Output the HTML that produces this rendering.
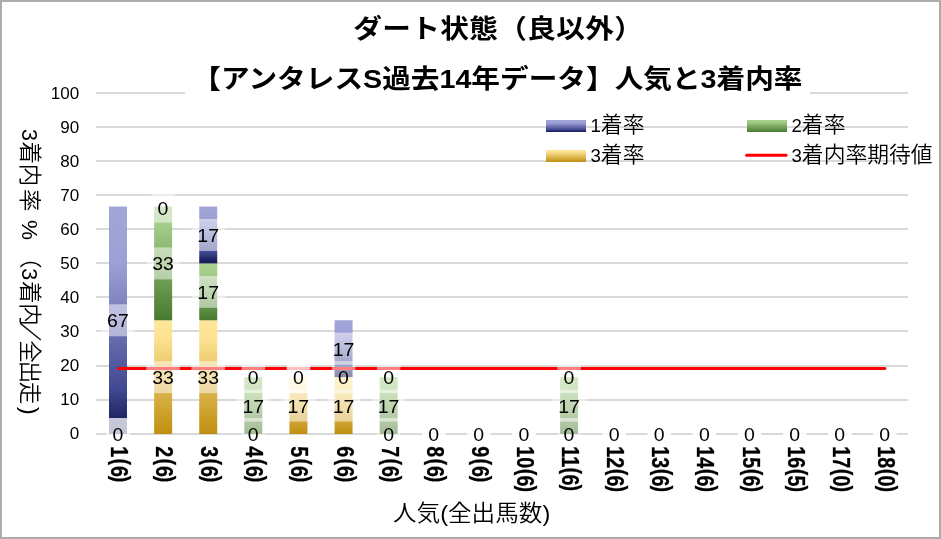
<!DOCTYPE html>
<html lang="ja"><head><meta charset="utf-8"><title>ダート状態（良以外）アンタレスS 人気と3着内率</title>
<style>
html,body{margin:0;padding:0;background:#fff;}
body{width:941px;height:539px;overflow:hidden;}
svg{display:block;font-family:"Liberation Sans","Noto Sans CJK JP",sans-serif;}
.t{font-weight:700;font-size:28.67px;fill:#000;}
.tk{font-size:17px;fill:#000;}
.dl{font-size:18.2px;fill:#000;text-anchor:middle;}
.cat{font-weight:700;font-size:24px;fill:#000;stroke:#000;stroke-width:0.3px;}
.lg{font-size:21.8px;fill:#000;font-weight:350;}
.lgd{font-size:18.6px;}
.axd{font-size:21.5px;}
.ax{font-size:24px;fill:#000;font-weight:350;}
</style></head><body>
<svg width="941" height="539" viewBox="0 0 941 539">
<defs>
<linearGradient id="g1" x1="0" y1="0" x2="0" y2="1"><stop offset="0" stop-color="#a1a6d9"/><stop offset="0.25" stop-color="#9ca0d4"/><stop offset="0.58" stop-color="#666bae"/><stop offset="0.8" stop-color="#414992"/><stop offset="0.93" stop-color="#1f2664"/><stop offset="1" stop-color="#151b52"/></linearGradient>
<linearGradient id="g2" x1="0" y1="0" x2="0" y2="1"><stop offset="0" stop-color="#a9d18e"/><stop offset="0.15" stop-color="#a5ce8a"/><stop offset="1" stop-color="#487a2e"/></linearGradient>
<linearGradient id="g3" x1="0" y1="0" x2="0" y2="1"><stop offset="0" stop-color="#ffe699"/><stop offset="0.15" stop-color="#fde293"/><stop offset="1" stop-color="#bf8f10"/></linearGradient>
</defs>
<rect x="0" y="0" width="941" height="539" fill="#fff"/>
<rect x="1" y="1" width="939" height="537" fill="none" stroke="#afabab" stroke-width="2"/>
<g stroke="#d9d9d9" stroke-width="2" fill="none">
<line x1="96" y1="434" x2="908" y2="434"/>
<line x1="96" y1="400" x2="908" y2="400"/>
<line x1="96" y1="366" x2="908" y2="366"/>
<line x1="96" y1="331" x2="908" y2="331"/>
<line x1="96" y1="297" x2="908" y2="297"/>
<line x1="96" y1="263" x2="908" y2="263"/>
<line x1="96" y1="229" x2="908" y2="229"/>
<line x1="96" y1="195" x2="908" y2="195"/>
<line x1="96" y1="161" x2="908" y2="161"/>
<line x1="96" y1="127" x2="908" y2="127"/>
<line x1="96" y1="93" x2="908" y2="93"/>
</g>
<g class="tk" text-anchor="end">
<text x="79.2" y="438.70">0</text>
<text x="79.2" y="404.70">10</text>
<text x="79.2" y="370.71">20</text>
<text x="79.2" y="336.71">30</text>
<text x="79.2" y="302.71">40</text>
<text x="79.2" y="268.71">50</text>
<text x="79.2" y="234.72">60</text>
<text x="79.2" y="200.72">70</text>
<text x="79.2" y="166.72">80</text>
<text x="79.2" y="132.73">90</text>
<text x="79.2" y="98.73">100</text>
</g>
<g>
<rect x="109.00" y="206.54" width="18" height="227.46" fill="url(#g1)"/>
<rect x="154.12" y="320.29" width="18" height="113.71" fill="url(#g3)"/>
<rect x="154.12" y="206.58" width="18" height="113.71" fill="url(#g2)"/>
<rect x="199.23" y="320.29" width="18" height="113.71" fill="url(#g3)"/>
<rect x="199.23" y="263.41" width="18" height="56.87" fill="url(#g2)"/>
<rect x="199.23" y="206.54" width="18" height="56.87" fill="url(#g1)"/>
<rect x="244.33" y="377.13" width="18" height="56.87" fill="url(#g2)"/>
<rect x="289.44" y="377.13" width="18" height="56.87" fill="url(#g3)"/>
<rect x="334.56" y="377.13" width="18" height="56.87" fill="url(#g3)"/>
<rect x="334.56" y="320.25" width="18" height="56.87" fill="url(#g1)"/>
<rect x="379.66" y="377.13" width="18" height="56.87" fill="url(#g2)"/>
<rect x="560.11" y="377.13" width="18" height="56.87" fill="url(#g2)"/>
</g>
<line x1="118.60" y1="368.5" x2="884.88" y2="368.5" stroke="#ff0000" stroke-width="3" stroke-linecap="round"/>
<g>
<rect x="106.25" y="418.00" width="23.5" height="32" fill="#fff" fill-opacity="0.5"/>
<rect x="106.25" y="418.00" width="23.5" height="32" fill="#fff" fill-opacity="0.5"/>
<rect x="101.25" y="304.27" width="33.5" height="32" fill="#fff" fill-opacity="0.5"/>
<rect x="146.37" y="361.14" width="33.5" height="32" fill="#fff" fill-opacity="0.5"/>
<rect x="146.37" y="247.43" width="33.5" height="32" fill="#fff" fill-opacity="0.5"/>
<rect x="151.37" y="190.58" width="23.5" height="32" fill="#fff" fill-opacity="0.5"/>
<rect x="191.48" y="361.14" width="33.5" height="32" fill="#fff" fill-opacity="0.5"/>
<rect x="191.48" y="275.85" width="33.5" height="32" fill="#fff" fill-opacity="0.5"/>
<rect x="191.48" y="218.98" width="33.5" height="32" fill="#fff" fill-opacity="0.5"/>
<rect x="241.58" y="418.00" width="23.5" height="32" fill="#fff" fill-opacity="0.5"/>
<rect x="236.58" y="389.56" width="33.5" height="32" fill="#fff" fill-opacity="0.5"/>
<rect x="241.58" y="361.13" width="23.5" height="32" fill="#fff" fill-opacity="0.5"/>
<rect x="281.69" y="389.56" width="33.5" height="32" fill="#fff" fill-opacity="0.5"/>
<rect x="286.69" y="361.13" width="23.5" height="32" fill="#fff" fill-opacity="0.5"/>
<rect x="286.69" y="361.13" width="23.5" height="32" fill="#fff" fill-opacity="0.5"/>
<rect x="326.81" y="389.56" width="33.5" height="32" fill="#fff" fill-opacity="0.5"/>
<rect x="331.81" y="361.13" width="23.5" height="32" fill="#fff" fill-opacity="0.5"/>
<rect x="326.81" y="332.69" width="33.5" height="32" fill="#fff" fill-opacity="0.5"/>
<rect x="376.91" y="418.00" width="23.5" height="32" fill="#fff" fill-opacity="0.5"/>
<rect x="371.91" y="389.56" width="33.5" height="32" fill="#fff" fill-opacity="0.5"/>
<rect x="376.91" y="361.13" width="23.5" height="32" fill="#fff" fill-opacity="0.5"/>
<rect x="422.02" y="418.00" width="23.5" height="32" fill="#fff" fill-opacity="0.5"/>
<rect x="422.02" y="418.00" width="23.5" height="32" fill="#fff" fill-opacity="0.5"/>
<rect x="422.02" y="418.00" width="23.5" height="32" fill="#fff" fill-opacity="0.5"/>
<rect x="467.13" y="418.00" width="23.5" height="32" fill="#fff" fill-opacity="0.5"/>
<rect x="467.13" y="418.00" width="23.5" height="32" fill="#fff" fill-opacity="0.5"/>
<rect x="467.13" y="418.00" width="23.5" height="32" fill="#fff" fill-opacity="0.5"/>
<rect x="512.25" y="418.00" width="23.5" height="32" fill="#fff" fill-opacity="0.5"/>
<rect x="512.25" y="418.00" width="23.5" height="32" fill="#fff" fill-opacity="0.5"/>
<rect x="512.25" y="418.00" width="23.5" height="32" fill="#fff" fill-opacity="0.5"/>
<rect x="557.36" y="418.00" width="23.5" height="32" fill="#fff" fill-opacity="0.5"/>
<rect x="552.36" y="389.56" width="33.5" height="32" fill="#fff" fill-opacity="0.5"/>
<rect x="557.36" y="361.13" width="23.5" height="32" fill="#fff" fill-opacity="0.5"/>
<rect x="602.47" y="418.00" width="23.5" height="32" fill="#fff" fill-opacity="0.5"/>
<rect x="602.47" y="418.00" width="23.5" height="32" fill="#fff" fill-opacity="0.5"/>
<rect x="602.47" y="418.00" width="23.5" height="32" fill="#fff" fill-opacity="0.5"/>
<rect x="647.58" y="418.00" width="23.5" height="32" fill="#fff" fill-opacity="0.5"/>
<rect x="647.58" y="418.00" width="23.5" height="32" fill="#fff" fill-opacity="0.5"/>
<rect x="647.58" y="418.00" width="23.5" height="32" fill="#fff" fill-opacity="0.5"/>
<rect x="692.69" y="418.00" width="23.5" height="32" fill="#fff" fill-opacity="0.5"/>
<rect x="692.69" y="418.00" width="23.5" height="32" fill="#fff" fill-opacity="0.5"/>
<rect x="692.69" y="418.00" width="23.5" height="32" fill="#fff" fill-opacity="0.5"/>
<rect x="737.80" y="418.00" width="23.5" height="32" fill="#fff" fill-opacity="0.5"/>
<rect x="737.80" y="418.00" width="23.5" height="32" fill="#fff" fill-opacity="0.5"/>
<rect x="737.80" y="418.00" width="23.5" height="32" fill="#fff" fill-opacity="0.5"/>
<rect x="782.91" y="418.00" width="23.5" height="32" fill="#fff" fill-opacity="0.5"/>
<rect x="782.91" y="418.00" width="23.5" height="32" fill="#fff" fill-opacity="0.5"/>
<rect x="782.91" y="418.00" width="23.5" height="32" fill="#fff" fill-opacity="0.5"/>
<rect x="828.01" y="418.00" width="23.5" height="32" fill="#fff" fill-opacity="0.5"/>
<rect x="828.01" y="418.00" width="23.5" height="32" fill="#fff" fill-opacity="0.5"/>
<rect x="828.01" y="418.00" width="23.5" height="32" fill="#fff" fill-opacity="0.5"/>
<rect x="873.12" y="418.00" width="23.5" height="32" fill="#fff" fill-opacity="0.5"/>
<rect x="873.12" y="418.00" width="23.5" height="32" fill="#fff" fill-opacity="0.5"/>
<rect x="873.12" y="418.00" width="23.5" height="32" fill="#fff" fill-opacity="0.5"/>
<text class="dl" transform="translate(117.91,440.90) scale(1.07,1)">0</text>
<text class="dl" transform="translate(117.91,327.17) scale(1.07,1)">67</text>
<text class="dl" transform="translate(163.02,384.04) scale(1.07,1)">33</text>
<text class="dl" transform="translate(163.02,270.33) scale(1.07,1)">33</text>
<text class="dl" transform="translate(163.02,214.58) scale(1.07,1)">0</text>
<text class="dl" transform="translate(208.13,384.04) scale(1.07,1)">33</text>
<text class="dl" transform="translate(208.13,298.75) scale(1.07,1)">17</text>
<text class="dl" transform="translate(208.13,241.88) scale(1.07,1)">17</text>
<text class="dl" transform="translate(253.23,440.90) scale(1.07,1)">0</text>
<text class="dl" transform="translate(253.23,413.46) scale(1.07,1)">17</text>
<text class="dl" transform="translate(253.23,384.03) scale(1.07,1)">0</text>
<text class="dl" transform="translate(298.34,413.46) scale(1.07,1)">17</text>
<text class="dl" transform="translate(298.34,384.03) scale(1.07,1)">0</text>
<text class="dl" transform="translate(343.45,413.46) scale(1.07,1)">17</text>
<text class="dl" transform="translate(343.45,384.03) scale(1.07,1)">0</text>
<text class="dl" transform="translate(343.45,355.59) scale(1.07,1)">17</text>
<text class="dl" transform="translate(388.56,440.90) scale(1.07,1)">0</text>
<text class="dl" transform="translate(388.56,413.46) scale(1.07,1)">17</text>
<text class="dl" transform="translate(388.56,384.03) scale(1.07,1)">0</text>
<text class="dl" transform="translate(433.67,440.90) scale(1.07,1)">0</text>
<text class="dl" transform="translate(478.78,440.90) scale(1.07,1)">0</text>
<text class="dl" transform="translate(523.89,440.90) scale(1.07,1)">0</text>
<text class="dl" transform="translate(569.00,440.90) scale(1.07,1)">0</text>
<text class="dl" transform="translate(569.00,413.46) scale(1.07,1)">17</text>
<text class="dl" transform="translate(569.00,384.03) scale(1.07,1)">0</text>
<text class="dl" transform="translate(614.12,440.90) scale(1.07,1)">0</text>
<text class="dl" transform="translate(659.23,440.90) scale(1.07,1)">0</text>
<text class="dl" transform="translate(704.34,440.90) scale(1.07,1)">0</text>
<text class="dl" transform="translate(749.45,440.90) scale(1.07,1)">0</text>
<text class="dl" transform="translate(794.56,440.90) scale(1.07,1)">0</text>
<text class="dl" transform="translate(839.66,440.90) scale(1.07,1)">0</text>
<text class="dl" transform="translate(884.77,440.90) scale(1.07,1)">0</text>
</g>
<g class="cat">
<text transform="translate(111.00,446.3) rotate(90) scale(0.82,1)">1<tspan dx="1.6" dy="-2.3">(</tspan><tspan dx="1.0" dy="2.3">6</tspan><tspan dx="-1.3" dy="-2.3">)</tspan></text>
<text transform="translate(156.12,446.3) rotate(90) scale(0.82,1)">2<tspan dx="1.6" dy="-2.3">(</tspan><tspan dx="1.0" dy="2.3">6</tspan><tspan dx="-1.3" dy="-2.3">)</tspan></text>
<text transform="translate(201.23,446.3) rotate(90) scale(0.82,1)">3<tspan dx="1.6" dy="-2.3">(</tspan><tspan dx="1.0" dy="2.3">6</tspan><tspan dx="-1.3" dy="-2.3">)</tspan></text>
<text transform="translate(246.33,446.3) rotate(90) scale(0.82,1)">4<tspan dx="1.6" dy="-2.3">(</tspan><tspan dx="1.0" dy="2.3">6</tspan><tspan dx="-1.3" dy="-2.3">)</tspan></text>
<text transform="translate(291.44,446.3) rotate(90) scale(0.82,1)">5<tspan dx="1.6" dy="-2.3">(</tspan><tspan dx="1.0" dy="2.3">6</tspan><tspan dx="-1.3" dy="-2.3">)</tspan></text>
<text transform="translate(336.56,446.3) rotate(90) scale(0.82,1)">6<tspan dx="1.6" dy="-2.3">(</tspan><tspan dx="1.0" dy="2.3">6</tspan><tspan dx="-1.3" dy="-2.3">)</tspan></text>
<text transform="translate(381.66,446.3) rotate(90) scale(0.82,1)">7<tspan dx="1.6" dy="-2.3">(</tspan><tspan dx="1.0" dy="2.3">6</tspan><tspan dx="-1.3" dy="-2.3">)</tspan></text>
<text transform="translate(426.77,446.3) rotate(90) scale(0.82,1)">8<tspan dx="1.6" dy="-2.3">(</tspan><tspan dx="1.0" dy="2.3">6</tspan><tspan dx="-1.3" dy="-2.3">)</tspan></text>
<text transform="translate(471.88,446.3) rotate(90) scale(0.82,1)">9<tspan dx="1.6" dy="-2.3">(</tspan><tspan dx="1.0" dy="2.3">6</tspan><tspan dx="-1.3" dy="-2.3">)</tspan></text>
<text transform="translate(517.00,446.3) rotate(90) scale(0.82,1)">10<tspan dx="0.6" dy="-2.3">(</tspan><tspan dx="0.3" dy="2.3">6</tspan><tspan dx="-1.0" dy="-2.3">)</tspan></text>
<text transform="translate(562.11,446.3) rotate(90) scale(0.82,1)">11<tspan dx="0.6" dy="-2.3">(</tspan><tspan dx="0.3" dy="2.3">6</tspan><tspan dx="-1.0" dy="-2.3">)</tspan></text>
<text transform="translate(607.22,446.3) rotate(90) scale(0.82,1)">12<tspan dx="0.6" dy="-2.3">(</tspan><tspan dx="0.3" dy="2.3">6</tspan><tspan dx="-1.0" dy="-2.3">)</tspan></text>
<text transform="translate(652.33,446.3) rotate(90) scale(0.82,1)">13<tspan dx="0.6" dy="-2.3">(</tspan><tspan dx="0.3" dy="2.3">6</tspan><tspan dx="-1.0" dy="-2.3">)</tspan></text>
<text transform="translate(697.44,446.3) rotate(90) scale(0.82,1)">14<tspan dx="0.6" dy="-2.3">(</tspan><tspan dx="0.3" dy="2.3">6</tspan><tspan dx="-1.0" dy="-2.3">)</tspan></text>
<text transform="translate(742.55,446.3) rotate(90) scale(0.82,1)">15<tspan dx="0.6" dy="-2.3">(</tspan><tspan dx="0.3" dy="2.3">6</tspan><tspan dx="-1.0" dy="-2.3">)</tspan></text>
<text transform="translate(787.66,446.3) rotate(90) scale(0.82,1)">16<tspan dx="0.6" dy="-2.3">(</tspan><tspan dx="0.3" dy="2.3">5</tspan><tspan dx="-1.0" dy="-2.3">)</tspan></text>
<text transform="translate(832.76,446.3) rotate(90) scale(0.82,1)">17<tspan dx="0.6" dy="-2.3">(</tspan><tspan dx="0.3" dy="2.3">0</tspan><tspan dx="-1.0" dy="-2.3">)</tspan></text>
<text transform="translate(877.88,446.3) rotate(90) scale(0.82,1)">18<tspan dx="0.6" dy="-2.3">(</tspan><tspan dx="0.3" dy="2.3">0</tspan><tspan dx="-1.0" dy="-2.3">)</tspan></text>
</g>
<rect x="185" y="6" width="625" height="95" fill="#fff"/>
<text class="t" text-anchor="middle" style="letter-spacing:0.35px" transform="translate(498.2,38.3) scale(1,0.92)">ダート状態（良以外）</text>
<text class="t" text-anchor="middle" transform="translate(497.4,88.3) scale(1,0.92)">【アンタレスS過去14年データ】人気と3着内率</text>
<text class="ax" style="font-size:23.6px" transform="translate(393,520.9) scale(1,0.94)">人気(全出馬数)</text>
<text class="ax" style="font-size:22.5px" transform="translate(21.5,0) rotate(90)"><tspan class="axd" x="129">3</tspan><tspan x="141.6">着</tspan><tspan x="163.7">内</tspan><tspan x="189">率</tspan><tspan x="212"> </tspan><tspan x="220.1">%</tspan><tspan x="245.9">（</tspan><tspan class="axd" x="268.3">3</tspan><tspan x="281">着</tspan><tspan x="303.3">内</tspan><tspan x="340.3">全</tspan><tspan x="360.7">出</tspan><tspan x="381.8">走</tspan><tspan style="font-size:24px" x="406.7">)</tspan></text>
<text class="ax" style="font-size:22.5px" transform="translate(21.5,322.6) rotate(90) scale(0.81,1)" stroke="#000" stroke-width="0.5">／</text>
<rect x="546" y="120" width="40" height="12" fill="url(#g1)"/>
<rect x="747" y="120" width="40" height="12" fill="url(#g2)"/>
<rect x="546" y="150" width="40" height="12" fill="url(#g3)"/>
<line x1="746.6" y1="155.2" x2="786" y2="155.2" stroke="#ff0000" stroke-width="3" stroke-linecap="round"/>
<g class="lg">
<text transform="translate(590.5,132.1) scale(1,1.01)"><tspan class="lgd">1</tspan>着率</text>
<text transform="translate(791.5,132.1) scale(1,1.01)"><tspan class="lgd">2</tspan>着率</text>
<text transform="translate(590.5,162.1) scale(1,1.01)"><tspan class="lgd">3</tspan>着率</text>
<text transform="translate(791.5,162.1) scale(1,1.01)"><tspan class="lgd">3</tspan>着内率期待値</text>
</g>
</svg></body></html>
